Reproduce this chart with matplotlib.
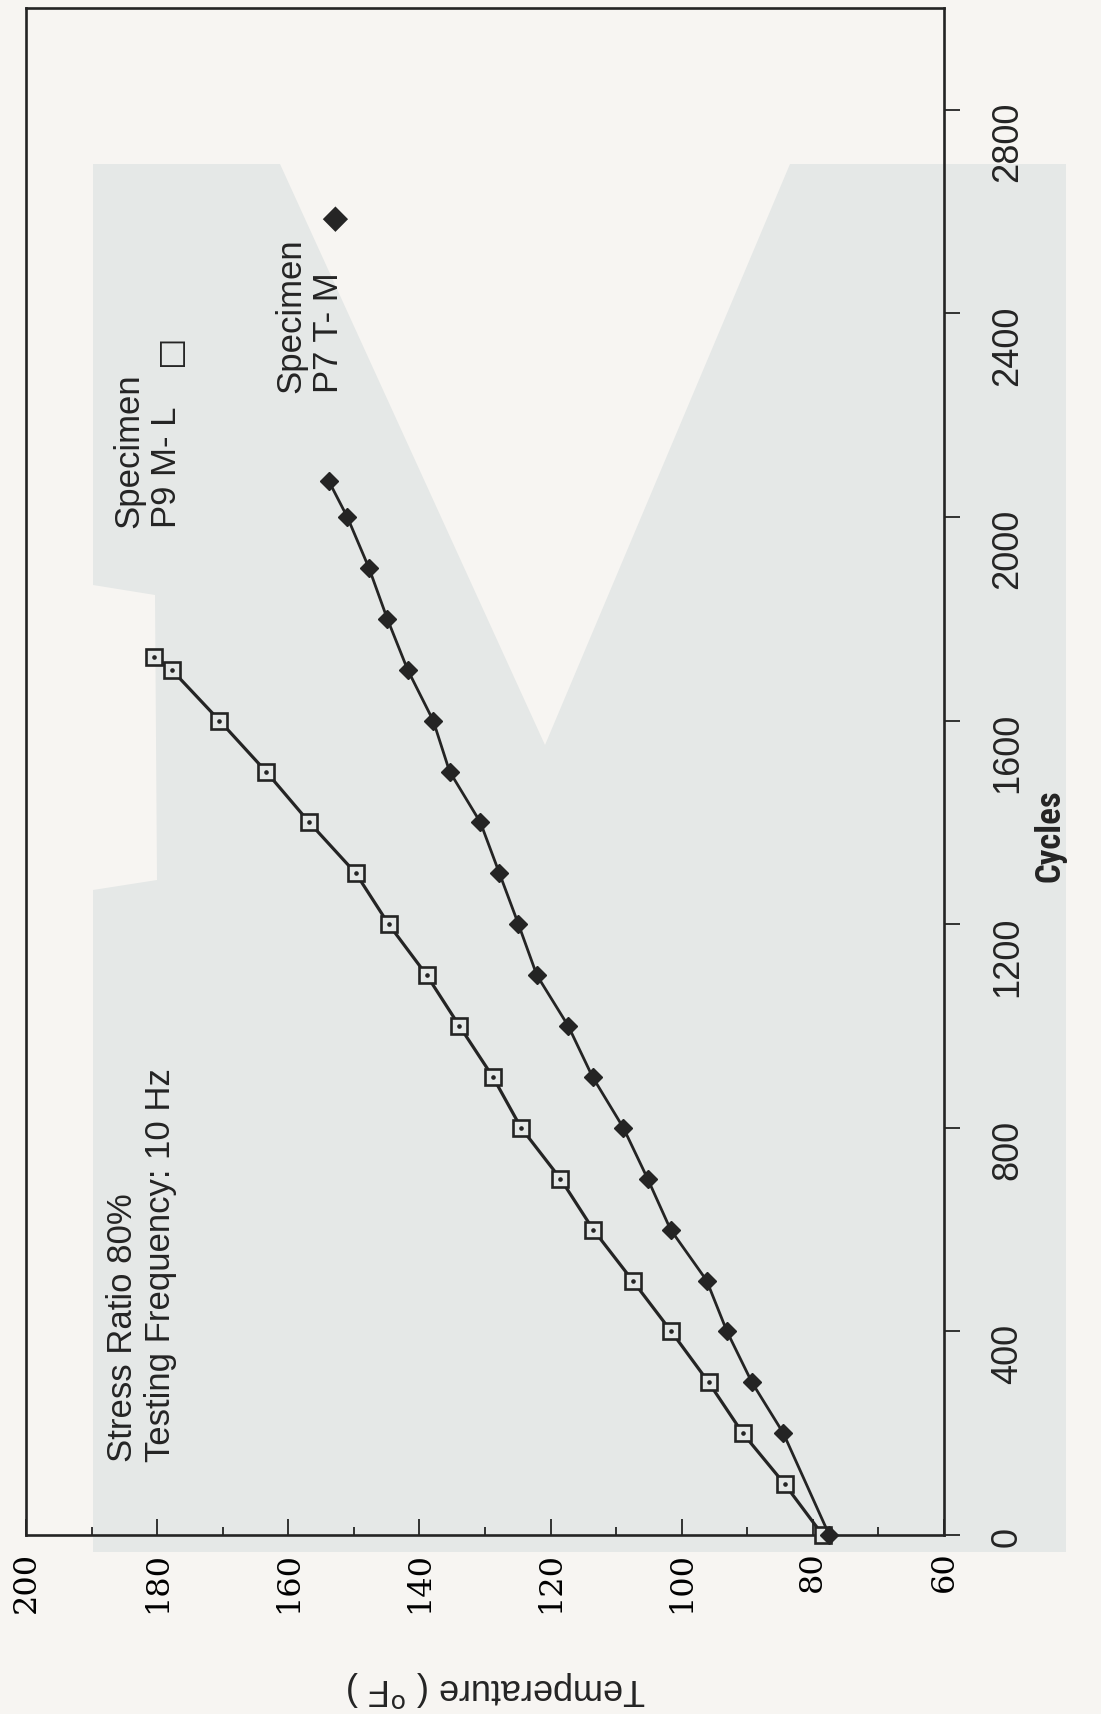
import matplotlib
matplotlib.use("Agg")
import matplotlib.pyplot as plt
import matplotlib.transforms as mtransforms
from matplotlib import font_manager
from matplotlib.patches import Polygon

# ---- data -------------------------------------------------------------
# Specimen P9 M-L (open squares)
p9_cycles = [0, 100, 200, 300, 400, 500, 600, 700, 800, 900, 1000, 1100,
             1200, 1300, 1400, 1500, 1600, 1700, 1725]
p9_temp = [78.5, 84.3, 90.7, 95.9, 101.6, 107.5, 113.5, 118.5, 124.5, 128.8,
           133.9, 138.9, 144.7, 149.7, 156.8, 163.4, 170.5, 177.8, 180.5]

# Specimen P7 T-M (filled diamonds)
p7_cycles = [0, 200, 300, 400, 500, 600, 700, 800, 900, 1000, 1100, 1200,
             1300, 1400, 1500, 1600, 1700, 1800, 1900, 2000, 2070]
p7_temp = [77.5, 84.5, 89.3, 93.1, 96.2, 101.7, 105.2, 108.9, 113.6, 117.3,
           122.1, 124.9, 127.8, 130.7, 135.4, 137.9, 141.8, 144.9, 147.7,
           151.0, 153.8]

temp_ticks = [200, 180, 160, 140, 120, 100, 80, 60]
temp_minor = [190, 170, 150, 130, 110, 90, 70]
cycle_ticks = [0, 400, 800, 1200, 1600, 2000, 2400, 2800]


def first_font(names, default="DejaVu Sans"):
    for n in names:
        try:
            font_manager.findfont(n, fallback_to_default=False)
            return n
        except ValueError:
            continue
    return default


# ---- figure -----------------------------------------------------------
W, H = 1101, 1714
paper = "#f7f5f2"
shade = "#e5e8e7"
ink = "#242424"


def px(x, y):
    """pixel position (from top-left) -> figure fraction"""
    return x / W, 1 - y / H


fig = plt.figure(figsize=(W / 100, H / 100), dpi=100, facecolor=paper)

# grey toning of the printed page
shade_regions = [
    [(93, 164), (1066, 164), (1066, 1552), (93, 1552)],
]
light_regions = [
    [(280, 164), (545, 745), (790, 164)],
    [(93, 585), (155, 595), (157, 880), (93, 890)],
]
for pts in shade_regions:
    fig.add_artist(Polygon([px(*p) for p in pts], closed=True,
                           transform=fig.transFigure, facecolor=shade,
                           edgecolor="none", zorder=-5))
for pts in light_regions:
    fig.add_artist(Polygon([px(*p) for p in pts], closed=True,
                           transform=fig.transFigure, facecolor=paper,
                           edgecolor="none", zorder=-4))

left, right, top, bottom = 26, 944, 8, 1535
ax = fig.add_axes([left / W, 1 - bottom / H, (right - left) / W, (bottom - top) / H])
ax.set_facecolor("none")
for s in ax.spines.values():
    s.set_linewidth(1.9)
    s.set_color(ink)

# temperature runs along the bottom, high values on the left
ax.set_xlim(200, 60)
ax.set_ylim(0, 3000)

ax.set_xticks(temp_ticks, labels=[str(t) for t in temp_ticks],
              rotation=90, fontfamily="DejaVu Serif", fontsize=23)
ax.set_xticks(temp_minor, minor=True)
ax.tick_params(axis="x", which="major", direction="in", length=11.5,
               width=1.3, color=ink, pad=12, top=False)
ax.tick_params(axis="x", which="minor", direction="in", length=5.8,
               width=1.3, color=ink, top=False)

ax.yaxis.tick_right()
ax.set_yticks(cycle_ticks)
ax.tick_params(axis="y", which="major", direction="out", length=11.5,
               width=1.3, color=ink, labelright=False, left=False)

sans = ["Liberation Sans", "DejaVu Sans"]
ylab_tr = mtransforms.blended_transform_factory(ax.transAxes, ax.transData)
for c in cycle_ticks:
    off = mtransforms.ScaledTranslation(46 / 100, 8 / 100, fig.dpi_scale_trans)
    ax.text(1.0, c, str(c), transform=ylab_tr + off, rotation=90,
            ha="left", va="top", fontsize=26, family=sans, color=ink)

# ---- series -----------------------------------------------------------
ax.plot(p9_temp, p9_cycles, color=ink, lw=2.3, marker="s", markersize=11.5,
        markeredgewidth=1.9, markeredgecolor=ink, markerfacecolor=shade,
        zorder=3, clip_on=False)
ax.plot(p9_temp, p9_cycles, linestyle="none", marker="o", markersize=2.3,
        color=ink, zorder=4, clip_on=False)
ax.plot(p7_temp, p7_cycles, color=ink, lw=2.0, marker="D", markersize=9,
        markeredgewidth=1.0, markeredgecolor=ink, markerfacecolor=ink,
        zorder=3, clip_on=False)

# ---- text -------------------------------------------------------------
fig.text(*px(106, 1462), "Stress Ratio 80%\nTesting Frequency: 10 Hz",
         rotation=90, ha="left", va="bottom", multialignment="left",
         fontsize=25, linespacing=1.2, family=sans, color=ink)
fig.text(*px(112, 528), "Specimen\nP9 M- L", rotation=90, ha="left",
         va="bottom", multialignment="left", fontsize=25, linespacing=1.2,
         family=sans, color=ink)
fig.text(*px(169, 350), "\u25a1", rotation=90, ha="center", va="center",
         fontsize=24, family="DejaVu Sans", color=ink)
fig.text(*px(274, 393), "Specimen\nP7 T- M", rotation=90, ha="left",
         va="bottom", multialignment="left", fontsize=25, linespacing=1.2,
         family=sans, color=ink)
fig.text(*px(335, 218), "\u25c6", rotation=90, ha="center", va="center",
         fontsize=24, family="DejaVu Sans", color=ink)

narrow = first_font(["Liberation Sans Narrow", "Roboto Condensed",
                     "DejaVu Sans Condensed"], default="Liberation Sans")
cyc_size = 22 if narrow == "Liberation Sans" else 25
fig.text(*px(1050, 836), "Cycles", rotation=90, ha="center", va="center",
         fontsize=cyc_size, fontweight="bold", family=[narrow, "DejaVu Sans"],
         color=ink)
fig.text(*px(496, 1689), r"Temperature ( $^{\mathrm{o}}$F )", rotation=180,
         ha="center", va="center", fontsize=26, family=sans, color=ink)

fig.savefig("out.png", dpi=100, facecolor=paper)
